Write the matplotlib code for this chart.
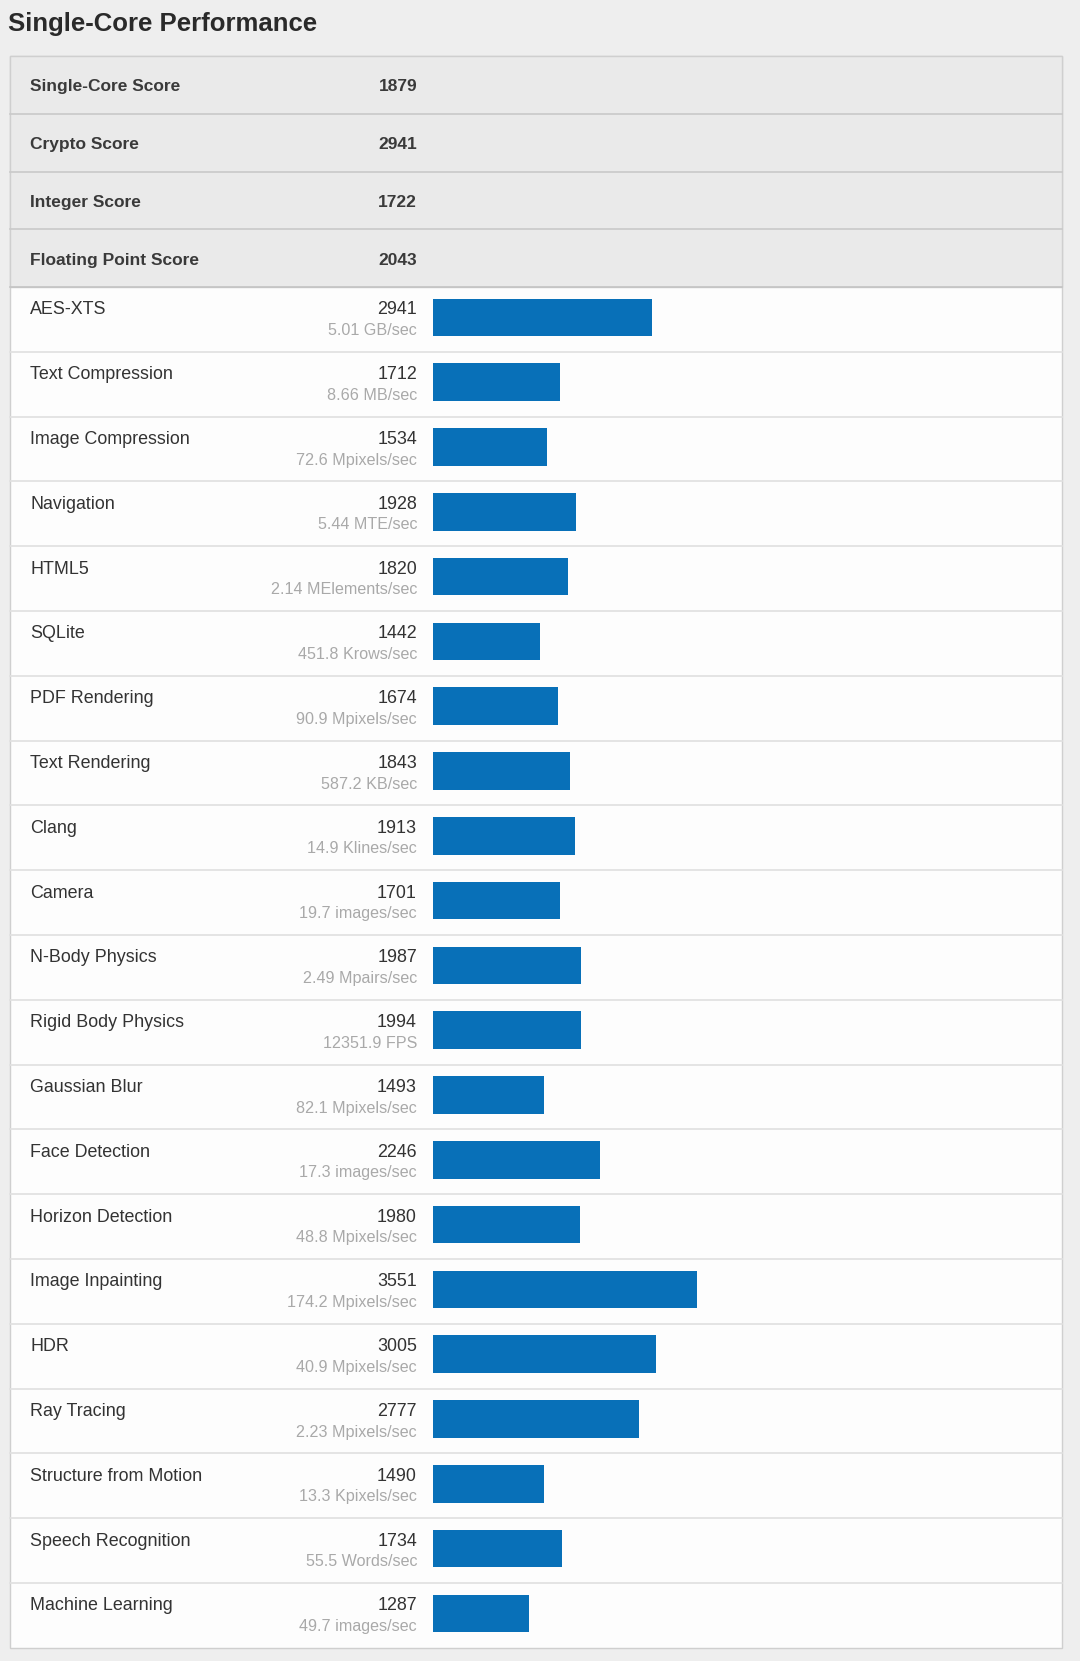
import matplotlib
matplotlib.use("Agg")
import matplotlib.pyplot as plt
from matplotlib.patches import Rectangle

plt.rcParams['font.family'] = ['Liberation Sans', 'DejaVu Sans']

# data
summary_names = ["Single-Core Score", "Crypto Score", "Integer Score", "Floating Point Score"]
summary_scores = [1879, 2941, 1722, 2043]

names = ["AES-XTS", "Text Compression", "Image Compression", "Navigation", "HTML5",
         "SQLite", "PDF Rendering", "Text Rendering", "Clang", "Camera",
         "N-Body Physics", "Rigid Body Physics", "Gaussian Blur", "Face Detection",
         "Horizon Detection", "Image Inpainting", "HDR", "Ray Tracing",
         "Structure from Motion", "Speech Recognition", "Machine Learning"]
scores = [2941, 1712, 1534, 1928, 1820, 1442, 1674, 1843, 1913, 1701, 1987,
          1994, 1493, 2246, 1980, 3551, 3005, 2777, 1490, 1734, 1287]
units = ["5.01 GB/sec", "8.66 MB/sec", "72.6 Mpixels/sec", "5.44 MTE/sec",
         "2.14 MElements/sec", "451.8 Krows/sec", "90.9 Mpixels/sec", "587.2 KB/sec",
         "14.9 Klines/sec", "19.7 images/sec", "2.49 Mpairs/sec", "12351.9 FPS",
         "82.1 Mpixels/sec", "17.3 images/sec", "48.8 Mpixels/sec", "174.2 Mpixels/sec",
         "40.9 Mpixels/sec", "2.23 Mpixels/sec", "13.3 Kpixels/sec", "55.5 Words/sec",
         "49.7 images/sec"]

W, H = 1080, 1661
BAR_COLOR = "#0870b8"
TEXT = "#333333"
UNIT = "#a9a9a9"

# layout in pixels
px_left, px_right = 10, 1062
px_top = 56
head_h = 57.75
rows_top = px_top + head_h * len(summary_names)
row_h = 64.8
px_bottom = rows_top + row_h * len(names)
label_x = 30
value_x = 417
bar_x0 = 433.3
px_per_pt = 0.0742

fig = plt.figure(figsize=(W / 100, H / 100), dpi=100)
fig.patch.set_facecolor("#eeeeee")

bg = fig.add_axes([0, 0, 1, 1])
bg.set_xlim(0, W)
bg.set_ylim(H, 0)
bg.axis("off")

bg.text(8, 31, "Single-Core Performance", fontsize=18.5, fontweight="bold",
        color="#2a2a2a", va="baseline", ha="left")

# panel with faint shadow
bg.add_patch(Rectangle((px_left + 1, px_top + 1), px_right - px_left, px_bottom - px_top,
                       facecolor="#d6d6d6", edgecolor="none", zorder=0))
bg.add_patch(Rectangle((px_left, px_top), px_right - px_left, px_bottom - px_top,
                       facecolor="#fdfdfd", edgecolor="#cfcfcf", linewidth=1, zorder=1))
bg.add_patch(Rectangle((px_left, px_top), px_right - px_left, rows_top - px_top,
                       facecolor="#eaeaea", edgecolor="#cfcfcf", linewidth=1, zorder=1))

# summary rows
for i, (n, s) in enumerate(zip(summary_names, summary_scores)):
    top = px_top + i * head_h
    if i > 0:
        bg.plot([px_left, px_right], [top, top], color="#c9c9c9", lw=1.2, zorder=2)
    bg.text(label_x, top + 35.3, n, fontsize=12.5, fontweight="bold", color="#3a3a3a",
            va="baseline", ha="left", zorder=3)
    bg.text(value_x, top + 35.3, str(s), fontsize=12.5, fontweight="bold", color="#3a3a3a",
            va="baseline", ha="right", zorder=3)
bg.plot([px_left, px_right], [rows_top, rows_top], color="#c4c4c4", lw=1.2, zorder=2)

# benchmark rows
for i, (n, s, u) in enumerate(zip(names, scores, units)):
    top = rows_top + i * row_h
    if i > 0:
        bg.plot([px_left, px_right], [top, top], color="#e0e0e0", lw=1.2, zorder=2)
    bg.text(label_x, top + 27.4, n, fontsize=12.9, color=TEXT,
            va="baseline", ha="left", zorder=3)
    bg.text(value_x, top + 27.4, str(s), fontsize=12.9, color=TEXT,
            va="baseline", ha="right", zorder=3)
    bg.text(value_x, top + 48, u, fontsize=11.6, color=UNIT,
            va="baseline", ha="right", zorder=3)

# bars on their own axes
ax = fig.add_axes([bar_x0 / W, 1 - px_bottom / H,
                   (px_right - bar_x0) / W, (px_bottom - rows_top) / H])
ax.patch.set_alpha(0)
ax.set_xlim(0, (px_right - bar_x0) / px_per_pt)
ax.set_ylim(len(names) - 0.5, -0.5)
ax.barh([i - 0.03 for i in range(len(names))], scores, height=0.58,
        color=BAR_COLOR, edgecolor="none")
ax.axis("off")

fig.savefig("out.png", dpi=100, facecolor=fig.get_facecolor())
